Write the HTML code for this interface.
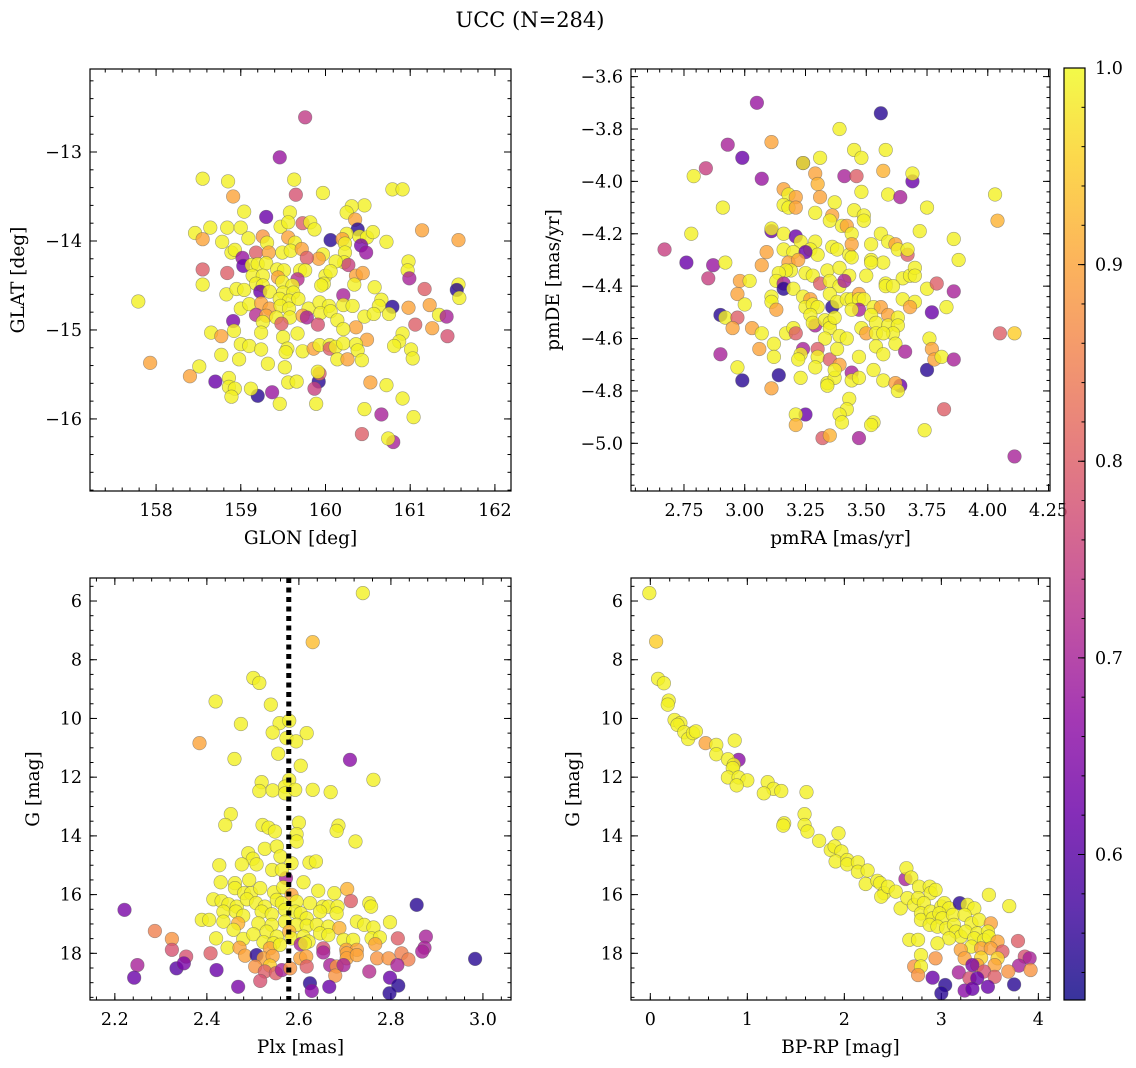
<!DOCTYPE html>
<html><head><meta charset="utf-8">
<style>
html,body{margin:0;padding:0;background:#fff;}
svg{display:block;font-family:"DejaVu Serif","Liberation Serif",serif;}
</style></head>
<body>
<svg id="fig" width="1136" height="1068" viewBox="0 0 1136 1068" xmlns="http://www.w3.org/2000/svg">
<rect width="1136" height="1068" fill="#fff"/>
<text x="530" y="27" text-anchor="middle" font-size="21">UCC (N=284)</text>
<defs>
<linearGradient id="plasma" x1="0" y1="1" x2="0" y2="0">
<stop offset="0" stop-color="#0d0887"/><stop offset="0.1" stop-color="#41049d"/><stop offset="0.2" stop-color="#6a00a8"/><stop offset="0.3" stop-color="#8f0da4"/><stop offset="0.4" stop-color="#b12a90"/><stop offset="0.5" stop-color="#cc4778"/><stop offset="0.6" stop-color="#e16462"/><stop offset="0.7" stop-color="#f2844b"/><stop offset="0.8" stop-color="#fca636"/><stop offset="0.9" stop-color="#fcce25"/><stop offset="1" stop-color="#f0f921"/>
</linearGradient>
</defs>
</svg>
<script>
// ---------- data (x, y, membership probability) ----------
const glonGlat = [
[159.76,-12.61,.74],[159.46,-13.06,.68],[158.55,-13.30,.99],[158.85,-13.33,.99],[158.91,-13.50,.9],[159.63,-13.31,.99],[159.65,-13.48,.78],[159.97,-13.46,.99],[160.79,-13.42,.99],[160.91,-13.42,.99],[160.46,-13.60,.99],[160.31,-13.61,.99],[160.25,-13.68,.99],[160.35,-13.76,.9],[159.04,-13.67,.99],[159.30,-13.73,.62],[159.58,-13.68,.99],[159.73,-13.80,.8],[159.82,-13.79,.99],[159.87,-13.87,.99],[159.47,-13.84,.99],[159.56,-13.79,.99],[158.64,-13.85,.99],[158.84,-13.85,.99],[159.0,-13.85,.99],[158.46,-13.91,.99],[158.55,-13.98,.9],[158.78,-14.01,.99],[159.09,-13.97,.99],[159.26,-13.95,.88],[159.31,-14.02,.99],[159.56,-13.96,.9],[159.64,-14.02,.99],[160.06,-13.99,.55],[160.38,-13.87,.55],[160.25,-13.92,.99],[160.20,-13.98,.9],[160.40,-13.95,.99],[160.49,-13.96,.99],[160.56,-13.90,.99],[160.42,-14.05,.64],[160.48,-14.13,.68],[160.72,-14.01,.99],[161.14,-13.88,.9],[161.57,-13.99,.9],[160.23,-14.03,.99],[160.23,-14.13,.99],[160.22,-14.24,.99],[160.27,-14.27,.75],[160.12,-14.23,.99],[159.97,-14.15,.99],[159.92,-14.20,.9],[158.89,-14.13,.99],[158.93,-14.10,.99],[159.02,-14.19,.68],[159.03,-14.28,.62],[159.18,-14.13,.8],[159.33,-14.13,.9],[159.49,-14.13,.99],[159.59,-14.11,.99],[159.72,-14.09,.9],[159.78,-14.19,.8],[159.13,-14.27,.99],[159.20,-14.26,.99],[159.30,-14.25,.99],[159.43,-14.32,.99],[159.51,-14.33,.99],[159.70,-14.33,.99],[159.76,-14.33,.99],[158.55,-14.32,.8],[158.84,-14.36,.8],[158.55,-14.49,.99],[159.14,-14.39,.99],[159.26,-14.39,.99],[159.18,-14.48,.99],[159.26,-14.50,.99],[159.44,-14.41,.9],[159.67,-14.43,.72],[159.49,-14.46,.99],[159.61,-14.50,.99],[159.50,-14.58,.99],[159.62,-14.58,.99],[160.0,-14.39,.99],[160.06,-14.34,.99],[159.98,-14.48,.99],[159.95,-14.50,.99],[160.36,-14.39,.9],[160.44,-14.36,.9],[160.34,-14.49,.99],[160.58,-14.52,.99],[160.98,-14.23,.99],[160.97,-14.33,.99],[160.99,-14.42,.7],[161.17,-14.54,.8],[161.57,-14.49,.99],[161.55,-14.55,.55],[161.58,-14.64,.99],[157.79,-14.68,.99],[158.83,-14.60,.99],[158.95,-14.54,.99],[159.04,-14.55,.99],[159.23,-14.57,.62],[159.34,-14.57,.99],[159.46,-14.65,.99],[159.57,-14.67,.99],[159.68,-14.65,.99],[159.0,-14.76,.99],[159.10,-14.71,.99],[159.24,-14.70,.9],[159.34,-14.76,.9],[159.47,-14.73,.99],[159.57,-14.76,.99],[159.80,-14.76,.99],[159.93,-14.69,.99],[160.04,-14.73,.99],[160.21,-14.61,.7],[160.21,-14.72,.99],[160.32,-14.73,.99],[160.66,-14.66,.99],[160.63,-14.73,.99],[160.79,-14.74,.55],[160.98,-14.75,.9],[161.23,-14.72,.9],[159.18,-14.83,.72],[158.91,-14.90,.64],[159.30,-14.84,.9],[159.42,-14.86,.99],[159.58,-14.86,.99],[159.73,-14.84,.9],[159.78,-14.86,.7],[159.94,-14.81,.99],[160.06,-14.79,.99],[160.46,-14.85,.99],[160.57,-14.82,.99],[160.75,-14.82,.99],[161.34,-14.83,.99],[161.43,-14.85,.7],[159.26,-14.91,.99],[159.48,-14.93,.8],[159.91,-14.94,.78],[160.14,-14.89,.99],[160.36,-14.97,.9],[161.06,-14.94,.8],[161.26,-14.98,.9],[161.44,-15.07,.78],[158.65,-15.03,.99],[158.77,-15.07,.9],[158.92,-15.01,.99],[159.24,-15.03,.99],[159.50,-15.08,.99],[159.67,-15.04,.99],[160.21,-14.99,.99],[160.49,-15.11,.9],[160.91,-15.04,.99],[160.87,-15.13,.99],[160.81,-15.18,.99],[159.0,-15.16,.99],[159.10,-15.18,.99],[159.24,-15.22,.99],[159.55,-15.21,.99],[159.53,-15.25,.99],[159.73,-15.24,.99],[159.86,-15.21,.9],[159.93,-15.17,.99],[160.05,-15.17,.99],[160.05,-15.21,.8],[160.12,-15.19,.99],[160.21,-15.15,.99],[160.36,-15.16,.99],[160.38,-15.23,.99],[161.01,-15.22,.99],[161.03,-15.32,.99],[158.77,-15.28,.99],[158.98,-15.33,.99],[159.32,-15.38,.99],[160.14,-15.33,.99],[160.26,-15.33,.9],[160.43,-15.34,.99],[157.93,-15.37,.9],[158.51,-15.41,.99],[158.40,-15.52,.9],[159.52,-15.42,.99],[159.92,-15.58,.55],[159.93,-15.49,.8],[159.91,-15.47,.99],[158.70,-15.58,.62],[158.86,-15.54,.99],[158.86,-15.64,.99],[158.93,-15.66,.99],[158.89,-15.75,.99],[159.20,-15.74,.55],[159.12,-15.66,.99],[159.37,-15.70,.68],[159.56,-15.59,.99],[159.66,-15.58,.99],[159.87,-15.66,.75],[159.46,-15.83,.99],[159.89,-15.83,.99],[160.53,-15.59,.9],[160.72,-15.62,.99],[160.91,-15.77,.99],[160.46,-15.89,.99],[160.66,-15.95,.7],[161.04,-15.98,.99],[160.43,-16.17,.8],[160.80,-16.26,.7],[160.74,-16.22,.99]
];
const pmraPmde = [
[3.05,-3.70,.68],[3.56,-3.74,.55],[3.39,-3.80,.99],[2.93,-3.86,.7],[3.11,-3.85,.9],[2.99,-3.91,.62],[2.84,-3.95,.75],[2.79,-3.98,.99],[3.07,-3.99,.68],[3.24,-3.93,.62],[3.24,-3.93,.99],[3.31,-3.91,.99],[3.45,-3.88,.99],[3.48,-3.91,.99],[3.58,-3.88,.99],[3.57,-3.96,.92],[3.41,-3.98,.7],[3.46,-3.98,.8],[3.69,-4.0,.62],[3.69,-3.97,.99],[3.29,-3.97,.9],[3.30,-4.01,.92],[3.16,-4.03,.9],[3.18,-4.05,.99],[3.21,-4.06,.9],[3.16,-4.09,.99],[3.18,-4.10,.99],[3.21,-4.10,.9],[3.31,-4.06,.9],[3.37,-4.08,.99],[3.48,-4.04,.99],[3.59,-4.05,.99],[3.64,-4.06,.7],[3.75,-4.10,.99],[4.03,-4.05,.99],[4.04,-4.15,.92],[2.91,-4.10,.99],[2.78,-4.20,.99],[2.67,-4.26,.75],[2.76,-4.31,.62],[2.87,-4.32,.68],[2.85,-4.37,.75],[2.92,-4.31,.99],[3.11,-4.19,.62],[3.11,-4.18,.99],[3.16,-4.20,.99],[3.21,-4.21,.62],[3.23,-4.23,.99],[3.29,-4.12,.99],[3.36,-4.13,.9],[3.35,-4.15,.99],[3.40,-4.17,.99],[3.42,-4.17,.9],[3.44,-4.20,.99],[3.45,-4.11,.99],[3.49,-4.13,.99],[3.49,-4.15,.99],[3.72,-4.19,.99],[3.86,-4.22,.99],[3.88,-4.30,.99],[3.56,-4.20,.99],[3.52,-4.24,.99],[3.59,-4.23,.99],[3.62,-4.24,.9],[3.63,-4.26,.99],[3.67,-4.28,.8],[3.67,-4.26,.99],[3.29,-4.23,.99],[3.27,-4.26,.99],[3.30,-4.28,.99],[3.36,-4.25,.99],[3.38,-4.26,.99],[3.43,-4.28,.99],[3.44,-4.29,.99],[3.44,-4.24,.9],[3.16,-4.26,.99],[3.20,-4.27,.99],[3.25,-4.27,.62],[3.09,-4.27,.9],[3.07,-4.32,.9],[3.18,-4.31,.9],[3.22,-4.30,.9],[3.19,-4.34,.99],[3.17,-4.34,.99],[3.14,-4.35,.99],[3.25,-4.35,.99],[3.28,-4.36,.99],[3.34,-4.34,.99],[3.39,-4.33,.99],[3.43,-4.36,.99],[3.52,-4.30,.99],[3.57,-4.31,.99],[3.52,-4.31,.99],[3.50,-4.36,.99],[3.65,-4.37,.99],[3.68,-4.36,.99],[3.70,-4.33,.99],[3.70,-4.36,.99],[2.98,-4.38,.9],[3.02,-4.38,.99],[3.13,-4.38,.99],[3.16,-4.39,.7],[3.16,-4.41,.55],[3.20,-4.41,.99],[3.31,-4.39,.8],[3.35,-4.38,.99],[3.39,-4.40,.99],[3.41,-4.38,.7],[3.58,-4.39,.99],[3.58,-4.40,.99],[3.61,-4.40,.99],[3.75,-4.41,.99],[3.79,-4.39,.8],[3.86,-4.42,.7],[2.97,-4.43,.9],[3.00,-4.47,.99],[3.11,-4.44,.99],[3.11,-4.46,.99],[3.13,-4.49,.9],[3.24,-4.44,.99],[3.27,-4.45,.9],[3.25,-4.48,.99],[3.28,-4.47,.99],[3.30,-4.48,.99],[3.35,-4.43,.99],[3.36,-4.48,.55],[3.38,-4.46,.99],[3.42,-4.45,.99],[3.44,-4.45,.99],[3.47,-4.43,.9],[3.47,-4.45,.99],[3.49,-4.45,.99],[3.47,-4.49,.7],[3.44,-4.49,.99],[3.53,-4.48,.99],[3.56,-4.48,.9],[3.65,-4.45,.99],[3.70,-4.46,.99],[3.68,-4.48,.9],[3.77,-4.50,.62],[3.83,-4.48,.99],[2.90,-4.51,.55],[2.92,-4.52,.99],[2.97,-4.52,.8],[2.95,-4.56,.9],[3.03,-4.56,.9],[3.07,-4.58,.99],[3.17,-4.58,.99],[3.20,-4.56,.99],[3.21,-4.58,.8],[3.27,-4.51,.99],[3.29,-4.55,.7],[3.28,-4.54,.99],[3.33,-4.53,.99],[3.35,-4.54,.99],[3.35,-4.56,.99],[3.33,-4.60,.99],[3.39,-4.59,.99],[3.37,-4.52,.99],[3.42,-4.60,.99],[3.48,-4.56,.99],[3.50,-4.58,.9],[3.52,-4.51,.99],[3.54,-4.54,.99],[3.54,-4.58,.99],[3.59,-4.51,.9],[3.59,-4.55,.99],[3.63,-4.52,.99],[3.63,-4.55,.99],[3.61,-4.58,.99],[3.57,-4.58,.99],[3.76,-4.60,.99],[3.77,-4.64,.9],[4.05,-4.58,.8],[4.11,-4.58,.95],[2.90,-4.66,.7],[2.97,-4.71,.99],[3.06,-4.64,.9],[3.12,-4.62,.99],[3.12,-4.67,.99],[2.99,-4.76,.55],[3.14,-4.74,.55],[3.11,-4.79,.9],[3.24,-4.64,.7],[3.23,-4.66,.99],[3.22,-4.68,.99],[3.30,-4.64,.8],[3.30,-4.67,.99],[3.35,-4.68,.8],[3.38,-4.64,.99],[3.39,-4.70,.9],[3.29,-4.71,.99],[3.23,-4.75,.99],[3.34,-4.77,.99],[3.37,-4.75,.99],[3.37,-4.72,.99],[3.34,-4.78,.99],[3.44,-4.73,.7],[3.44,-4.76,.99],[3.47,-4.75,.99],[3.47,-4.67,.99],[3.54,-4.63,.99],[3.57,-4.66,.99],[3.53,-4.72,.99],[3.57,-4.76,.99],[3.62,-4.62,.99],[3.66,-4.65,.7],[3.64,-4.78,.62],[3.62,-4.77,.9],[3.63,-4.80,.99],[3.75,-4.72,.55],[3.78,-4.68,.9],[3.81,-4.67,.99],[3.86,-4.68,.7],[3.43,-4.83,.99],[3.42,-4.87,.99],[3.39,-4.89,.99],[3.40,-4.92,.99],[3.25,-4.89,.62],[3.21,-4.89,.99],[3.21,-4.93,.92],[3.53,-4.92,.99],[3.52,-4.93,.99],[3.32,-4.98,.8],[3.35,-4.97,.92],[3.47,-4.98,.7],[3.74,-4.95,.99],[3.82,-4.87,.8],[4.11,-5.05,.7]
];
const plxG = [
[2.739,5.73,.99],[2.630,7.40,.93],[2.501,8.62,.99],[2.514,8.79,.99],[2.419,9.42,.99],[2.539,9.53,.99],[2.474,10.19,.99],[2.558,10.16,.99],[2.579,10.08,.99],[2.543,10.48,.99],[2.617,10.50,.99],[2.573,10.67,.99],[2.594,10.78,.99],[2.384,10.84,.9],[2.555,11.20,.99],[2.460,11.38,.99],[2.604,11.61,.99],[2.711,11.41,.66],[2.762,12.09,.99],[2.519,12.17,.99],[2.579,12.09,.99],[2.514,12.47,.99],[2.543,12.45,.99],[2.570,12.32,.99],[2.570,12.55,.99],[2.592,12.43,.99],[2.630,12.43,.99],[2.669,12.51,.99],[2.452,13.26,.99],[2.440,13.63,.99],[2.521,13.63,.99],[2.534,13.72,.99],[2.548,13.85,.99],[2.600,13.55,.99],[2.595,13.94,.99],[2.595,14.19,.99],[2.686,13.65,.99],[2.682,13.83,.99],[2.723,14.19,.99],[2.526,14.44,.99],[2.552,14.36,.99],[2.560,14.70,.99],[2.490,14.59,.99],[2.500,14.78,.99],[2.476,14.97,.99],[2.427,15.00,.99],[2.508,14.97,.99],[2.584,14.93,.99],[2.623,14.91,.99],[2.637,14.87,.99],[2.542,15.16,.99],[2.572,15.44,.7],[2.563,15.16,.99],[2.430,15.58,.99],[2.461,15.61,.99],[2.492,15.50,.99],[2.610,15.58,.99],[2.461,15.78,.99],[2.481,15.95,.99],[2.496,15.95,.99],[2.516,15.78,.99],[2.546,15.92,.99],[2.566,15.75,.99],[2.584,16.01,.9],[2.642,15.87,.99],[2.677,15.95,.99],[2.705,15.81,.92],[2.414,16.16,.99],[2.432,16.22,.99],[2.447,16.33,.99],[2.465,16.41,.99],[2.487,16.16,.99],[2.507,16.29,.99],[2.526,16.41,.99],[2.552,16.18,.99],[2.563,16.29,.99],[2.570,16.52,.99],[2.595,16.24,.99],[2.624,16.29,.99],[2.652,16.41,.99],[2.664,16.41,.99],[2.684,16.41,.99],[2.713,16.22,.8],[2.753,16.29,.99],[2.757,16.41,.99],[2.856,16.35,.55],[2.221,16.52,.64],[2.436,16.58,.99],[2.463,16.58,.99],[2.479,16.72,.99],[2.519,16.58,.99],[2.541,16.67,.99],[2.592,16.58,.99],[2.604,16.64,.99],[2.617,16.81,.99],[2.646,16.58,.99],[2.682,16.64,.99],[2.389,16.86,.99],[2.405,16.86,.99],[2.436,16.92,.99],[2.468,16.98,.92],[2.512,16.98,.99],[2.541,17.03,.99],[2.570,16.92,.99],[2.595,17.03,.99],[2.617,17.06,.99],[2.639,17.03,.99],[2.664,17.09,.99],[2.688,17.14,.92],[2.726,16.92,.99],[2.742,17.03,.99],[2.798,16.94,.99],[2.762,17.12,.99],[2.287,17.24,.85],[2.420,17.49,.99],[2.458,17.20,.99],[2.479,17.51,.99],[2.501,17.35,.99],[2.530,17.26,.99],[2.552,17.43,.99],[2.579,17.26,.92],[2.584,17.49,.99],[2.610,17.43,.99],[2.621,17.60,.99],[2.646,17.32,.99],[2.664,17.38,.99],[2.697,17.54,.99],[2.718,17.54,.99],[2.758,17.49,.99],[2.776,17.46,.99],[2.815,17.49,.8],[2.876,17.43,.7],[2.324,17.51,.88],[2.445,17.81,.99],[2.471,17.81,.9],[2.523,17.62,.99],[2.545,17.66,.99],[2.537,17.83,.9],[2.559,17.71,.99],[2.604,17.69,.7],[2.613,17.66,.99],[2.653,17.83,.78],[2.703,17.88,.9],[2.726,17.88,.9],[2.766,17.69,.9],[2.873,17.81,.7],[2.983,18.19,.55],[2.324,17.88,.78],[2.355,18.11,.78],[2.408,18.00,.8],[2.483,18.08,.9],[2.508,18.06,.55],[2.523,18.17,.9],[2.543,18.09,.9],[2.603,18.17,.9],[2.616,18.11,.9],[2.653,17.97,.7],[2.704,18.00,.9],[2.704,18.17,.9],[2.726,18.06,.9],[2.770,18.17,.88],[2.795,18.17,.88],[2.823,18.00,.85],[2.838,18.21,.85],[2.868,17.94,.7],[2.249,18.40,.7],[2.334,18.51,.6],[2.350,18.34,.64],[2.421,18.57,.62],[2.505,18.45,.88],[2.537,18.42,.95],[2.526,18.62,.8],[2.550,18.68,.8],[2.563,18.57,.7],[2.581,18.51,.88],[2.617,18.45,.8],[2.668,18.40,.7],[2.682,18.45,.88],[2.697,18.40,.7],[2.679,18.76,.88],[2.753,18.62,.72],[2.814,18.40,.7],[2.242,18.83,.62],[2.516,18.94,.78],[2.468,19.14,.64],[2.624,19.02,.55],[2.628,19.28,.66],[2.666,19.14,.62],[2.798,18.83,.62],[2.816,19.10,.55],[2.797,19.36,.55]
];
const bprpG = [
[-0.01,5.73,.99],[0.06,7.38,.95],[0.08,8.65,.99],[0.14,8.80,.99],[0.19,9.39,.99],[0.18,9.53,.99],[0.25,10.05,.99],[0.31,10.16,.99],[0.28,10.22,.99],[0.35,10.47,.99],[0.39,10.70,.99],[0.44,10.50,.99],[0.47,10.44,.99],[0.57,10.84,.9],[0.68,10.90,.99],[0.68,11.22,.99],[0.87,10.75,.99],[0.91,11.41,.66],[0.80,11.39,.99],[0.86,11.58,.99],[0.85,11.69,.99],[0.80,12.01,.99],[0.91,12.01,.99],[1.00,12.11,.99],[0.89,12.28,.99],[1.21,12.17,.99],[1.27,12.40,.99],[1.35,12.47,.99],[1.17,12.55,.99],[1.61,12.51,.99],[1.38,13.57,.99],[1.37,13.65,.99],[1.59,13.26,.99],[1.59,13.63,.99],[1.62,13.85,.99],[1.74,14.17,.99],[1.94,13.91,.99],[1.86,14.48,.99],[1.90,14.36,.99],[1.97,14.53,.99],[1.91,14.87,.99],[2.03,14.82,.99],[2.03,14.97,.99],[2.14,14.90,.99],[2.14,15.22,.99],[2.24,15.18,.99],[2.22,15.64,.99],[2.34,15.53,.99],[2.37,15.61,.99],[2.41,15.95,.99],[2.38,16.07,.99],[2.45,15.73,.99],[2.53,15.90,.99],[2.63,15.47,.7],[2.64,15.10,.99],[2.69,15.42,.99],[2.58,16.47,.99],[2.65,16.12,.99],[2.72,16.35,.99],[2.77,15.73,.99],[2.88,15.73,.99],[2.89,15.95,.99],[2.94,15.84,.99],[2.76,16.12,.99],[2.82,16.29,.99],[2.79,16.64,.99],[2.79,16.86,.99],[2.89,16.58,.99],[2.91,16.81,.99],[3.00,16.41,.99],[3.03,16.29,.99],[3.08,16.47,.99],[3.19,16.29,.55],[3.27,16.35,.99],[3.34,16.47,.99],[2.98,16.64,.99],[3.01,16.81,.99],[3.12,16.69,.99],[3.24,16.69,.99],[3.31,16.98,.99],[3.39,16.86,.99],[3.51,16.98,.9],[3.49,16.01,.99],[3.70,16.39,.99],[2.88,17.03,.99],[2.96,17.09,.99],[3.05,17.15,.99],[3.13,17.03,.99],[3.15,17.26,.99],[3.20,17.43,.99],[3.25,17.26,.99],[3.37,17.32,.99],[3.48,17.26,.99],[3.34,17.49,.99],[3.44,17.55,.99],[3.49,17.43,.99],[3.08,17.49,.99],[2.96,17.66,.99],[2.67,17.54,.99],[2.76,17.54,.99],[3.58,17.60,.9],[3.79,17.58,.8],[3.31,17.77,.99],[3.20,17.88,.9],[3.41,17.83,.9],[3.51,17.83,.9],[3.63,17.94,.8],[2.79,18.06,.99],[2.94,18.17,.88],[3.24,18.17,.9],[3.41,18.15,.96],[3.58,18.17,.96],[3.55,18.40,.9],[3.37,18.40,.9],[3.32,18.40,.64],[3.86,18.11,.78],[3.91,18.17,.7],[3.80,18.42,.7],[2.72,18.45,.88],[2.79,18.45,.99],[2.76,18.74,.88],[3.18,18.65,.7],[3.44,18.62,.78],[3.55,18.80,.8],[3.69,18.62,.88],[3.92,18.57,.88],[3.29,18.85,.78],[3.37,18.85,.62],[2.91,18.83,.62],[3.04,19.08,.55],[3.00,19.36,.55],[3.24,19.27,.66],[3.32,19.21,.62],[3.48,19.14,.62],[3.75,19.06,.55]
];
const colorbarTicks = [0.6, 0.7, 0.8, 0.9, 1.0];
const plxMedian = 2.578;

// ---------- helpers ----------
const NS = "http://www.w3.org/2000/svg";
const svg = document.getElementById('fig');
function el(tag, attrs, parent) {
  const e = document.createElementNS(NS, tag);
  for (const k in attrs) e.setAttribute(k, attrs[k]);
  (parent || svg).appendChild(e);
  return e;
}
const plasmaStops = ["#0d0887","#41049d","#6a00a8","#8f0da4","#b12a90","#cc4778","#e16462","#f2844b","#fca636","#fcce25","#f0f921"];
const PMIN = 0.526, PMAX = 1.0;
function hex(h){return [parseInt(h.substr(1,2),16),parseInt(h.substr(3,2),16),parseInt(h.substr(5,2),16)];}
function plasma(p) {
  let t = (p - PMIN) / (PMAX - PMIN);
  t = Math.max(0, Math.min(1, t)) * 10;
  const i = Math.min(9, Math.floor(t)), f = t - i;
  const a = hex(plasmaStops[i]), b = hex(plasmaStops[i+1]);
  return 'rgb(' + a.map((v,j)=>Math.round(v+(b[j]-v)*f)).join(',') + ')';
}
function fmt(v, d) { const s = Math.abs(v).toFixed(d); return (v < -1e-9 ? '\u2212' : '') + s; }
const TICK_FS = 17.5, LABEL_FS = 18.5;

function panel(cfg) {
  const g = el('g', {});
  
  
  const sx = v => cfg.px[0] + (v - cfg.xd[0]) / (cfg.xd[1] - cfg.xd[0]) * (cfg.px[1] - cfg.px[0]);
  const sy = v => cfg.py[0] + (v - cfg.yd[0]) / (cfg.yd[1] - cfg.yd[0]) * (cfg.py[1] - cfg.py[0]);
  const [L, R] = cfg.px, [T, B] = cfg.py;
  const tg = el('g', {stroke: '#000', 'stroke-width': 1}, g);
  function xticks(step, len, labels) {
    const lo = Math.min(...cfg.xd), hi = Math.max(...cfg.xd);
    for (let k = Math.ceil(lo / step - 1e-6); k * step <= hi + 1e-9; k++) {
      const v = k * step, x = sx(v);
      if (x < L - 0.5 || x > R + 0.5) continue;
      el('line', {x1: x, x2: x, y1: B, y2: B - len}, tg);
      el('line', {x1: x, x2: x, y1: T, y2: T + len}, tg);
      if (labels) {
        const t = el('text', {x: x, y: B + 25, 'text-anchor': 'middle', 'font-size': TICK_FS, stroke: 'none', fill: '#000'}, g);
        
        
        t.textContent = fmt(v, cfg.xdec);
      }
    }
  }
  function yticks(step, len, labels) {
    const lo = Math.min(...cfg.yd), hi = Math.max(...cfg.yd);
    for (let k = Math.ceil(lo / step - 1e-6); k * step <= hi + 1e-9; k++) {
      const v = k * step, y = sy(v);
      if (y < T - 0.5 || y > B + 0.5) continue;
      el('line', {x1: L, x2: L + len, y1: y, y2: y}, tg);
      el('line', {x1: R, x2: R - len, y1: y, y2: y}, tg);
      if (labels) {
        const t = el('text', {x: L - 8, y: y + 6, 'text-anchor': 'end', 'font-size': TICK_FS, stroke: 'none', fill: '#000'}, g);
        
        
        t.textContent = fmt(v, cfg.ydec);
      }
    }
  }
  xticks(cfg.xmin, 3.5, false); xticks(cfg.xmaj, 7, true);
  yticks(cfg.ymin, 3.5, false); yticks(cfg.ymaj, 7, true);
  const pg = el('g', {}, g);
  
  
  cfg.data.forEach(d => {
    const c = el('circle', {cx: sx(d[0]), cy: sy(d[1]), r: 6.8, fill: plasma(d[2]), 'fill-opacity': 0.8, stroke: 'rgba(90,90,90,0.55)', 'stroke-width': 0.6}, pg);
    
    
  });
  if (cfg.vline !== undefined) {
    const l = el('line', {x1: sx(cfg.vline), x2: sx(cfg.vline), y1: T, y2: B, stroke: '#000', 'stroke-width': 5, 'stroke-dasharray': '5 4.5'}, g);
    
    
  }
  const fr = el('rect', {x: L, y: T, width: R - L, height: B - T, fill: 'none', stroke: '#000', 'stroke-width': 1.2}, g);
  
  
  const xl = el('text', {x: (L + R) / 2, y: B + 53, 'text-anchor': 'middle', 'font-size': LABEL_FS}, g);
  
  
  xl.textContent = cfg.xlabel;
  const yx = cfg.ylx, yc = (T + B) / 2;
  const yl = el('text', {x: yx, y: yc, 'text-anchor': 'middle', 'font-size': LABEL_FS, transform: 'rotate(-90 ' + yx + ' ' + yc + ')'}, g);
  
  
  yl.textContent = cfg.ylabel;
}

panel({name: 'glon-glat-panel', data: glonGlat, px: [90, 511], py: [69, 491], xd: [157.22, 162.19], yd: [-12.067, -16.81], xmaj: 1, xmin: 0.2, ymaj: 1, ymin: 0.2, xdec: 0, ydec: 0, xlabel: 'GLON [deg]', ylabel: 'GLAT [deg]', ylx: 24});
panel({name: 'pm-panel', data: pmraPmde, px: [631, 1050], py: [69, 491], xd: [2.532, 4.256], yd: [-3.571, -5.182], xmaj: 0.25, xmin: 0.05, ymaj: 0.2, ymin: 0.04, xdec: 2, ydec: 1, xlabel: 'pmRA [mas/yr]', ylabel: 'pmDE [mas/yr]', ylx: 559});
panel({name: 'plx-g-panel', data: plxG, px: [90, 511], py: [578, 1000], xd: [2.146, 3.061], yd: [5.216, 19.59], xmaj: 0.2, xmin: 0.04, ymaj: 2, ymin: 0.5, xdec: 1, ydec: 0, xlabel: 'Plx [mas]', ylabel: 'G [mag]', ylx: 39, vline: plxMedian});
panel({name: 'cmd-panel', data: bprpG, px: [631, 1050], py: [578, 1000], xd: [-0.199, 4.12], yd: [5.216, 19.59], xmaj: 1, xmin: 0.2, ymaj: 2, ymin: 0.5, xdec: 0, ydec: 0, xlabel: 'BP-RP [mag]', ylabel: 'G [mag]', ylx: 579});

(function(){
  const g = el('g', {});
  
  
  const X0 = 1064, X1 = 1085, T = 68, B = 1000;
  const r = el('rect', {x: X0, y: T, width: X1 - X0, height: B - T, fill: 'url(#plasma)', 'fill-opacity': 0.82}, g);
  
  
  const sy = v => B - (v - PMIN) / (PMAX - PMIN) * (B - T);
  for (let k = 27; k <= 50; k++) {
    const v = k * 0.02; const y = sy(v);
    if (y < T || y > B) continue;
    el('line', {x1: X1, x2: X1 - 3.5, y1: y, y2: y, stroke: '#000', 'stroke-width': 1}, g);
  }
  colorbarTicks.forEach(v => {
    const y = sy(v);
    el('line', {x1: X1, x2: X1 - 7, y1: y, y2: y, stroke: '#000', 'stroke-width': 1}, g);
    const t = el('text', {x: 1095, y: y + 6, 'font-size': TICK_FS}, g);
    
    
    t.textContent = v.toFixed(1);
  });
  el('rect', {x: X0, y: T, width: X1 - X0, height: B - T, fill: 'none', stroke: '#000', 'stroke-width': 1.2}, g);
})();
</script>
</body></html>
